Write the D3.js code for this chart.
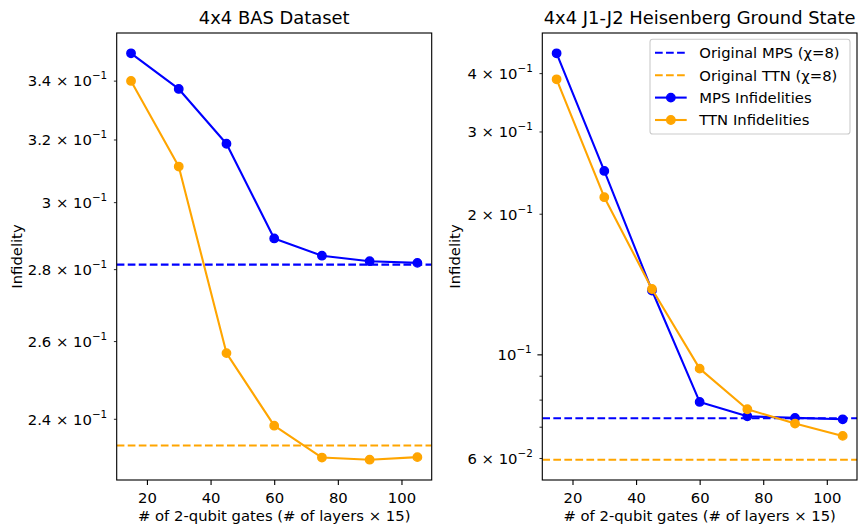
<!DOCTYPE html>
<html>
<head>
<meta charset="utf-8">
<script src="https://cdn.jsdelivr.net/npm/d3@7"></script>
<style>
  body { margin: 0; background: #fff; }
  svg { display: block; font-family: "DejaVu Sans", sans-serif; }
</style>
</head>
<body>
<div id="chart-area"></div>
<script>
// data
var gates = [15, 30, 45, 60, 75, 90, 105];

var basMps = [0.3497, 0.3371, 0.3186, 0.2890, 0.2839, 0.2823, 0.2818];
var basTtn = [0.3399, 0.3112, 0.2568, 0.2383, 0.2306, 0.2301, 0.2307];
var basOrig = [0.2813, 0.2335]; // MPS, TTN (chi=8)

var heisMps = [0.441, 0.247, 0.137, 0.0791, 0.0737, 0.0731, 0.0726];
var heisTtn = [0.388, 0.217, 0.138, 0.0932, 0.0763, 0.0711, 0.0669];
var heisOrig = [0.0730, 0.0595];

var xTicks = [20, 40, 60, 80, 100];
var basTicks = [0.24, 0.26, 0.28, 0.30, 0.32, 0.34];
var heisMajor = [0.1];
var heisMinor = [0.06, 0.07, 0.08, 0.09, 0.2, 0.3, 0.4];
var heisLabeled = [0.06, 0.2, 0.3, 0.4];

var legendNames = ["Original MPS (\u03c7=8)", "Original TTN (\u03c7=8)", "MPS Infidelities", "TTN Infidelities"];

var W = 861, H = 532;
var FS = 14.8;
var TFS = 17.9;
var PT = 1.4;
var colors = {mps: "blue", ttn: "orange"};

var svg = d3.select("#chart-area").append("svg")
	.attr("width", W)
	.attr("height", H);

svg.append("rect").attr("width", W).attr("height", H).attr("fill", "#fff");

// matplotlib-ish log padding (5% in log space)
function logPad(vals) {
	var lo = Math.log(d3.min(vals)), hi = Math.log(d3.max(vals));
	var m = (hi - lo) * 0.05;
	return [Math.exp(lo - m), Math.exp(hi + m)];
}

// write "m × 10^e" as tspans
function mathText(text, v) {
	var e = Math.floor(Math.log10(v) + 1e-9);
	var m = Math.round(v / Math.pow(10, e) * 10) / 10;
	text.text("");
	var base = (m === 1) ? "10" : (m + " \u00d7 10");
	text.append("tspan").text(base);
	text.append("tspan")
		.attr("font-size", FS * 0.7)
		.attr("dy", -7)
		.text("\u2212" + Math.abs(e));
}

function drawPanel(cfg) {
	var g = svg.append("g");

	var x = d3.scaleLinear().domain([10.5, 109.5]).range([cfg.x0, cfg.x1]);
	var y = d3.scaleLog()
		.domain(logPad(cfg.mps.concat(cfg.ttn, cfg.orig)))
		.range([cfg.y1, cfg.y0]);

	// x axis
	var xa = g.append("g")
		.attr("transform", "translate(0," + cfg.y1 + ")")
		.call(d3.axisBottom(x).tickValues(xTicks).tickSize(4.9).tickPadding(7.6));
	xa.select(".domain").remove();
	xa.selectAll("text").attr("font-size", FS).attr("font-family", "DejaVu Sans").attr("fill", "#000");
	xa.selectAll("line").attr("stroke", "#000").attr("stroke-width", 0.8 * PT);

	// y axis: minor ticks (some labelled) and majors
	var ymin = g.append("g")
		.attr("transform", "translate(" + cfg.x0 + ",0)")
		.call(d3.axisLeft(y).tickValues(cfg.minor).tickSize(2.8).tickPadding(6.7));
	ymin.select(".domain").remove();
	ymin.selectAll("line").attr("stroke", "#000").attr("stroke-width", 0.6 * PT);
	ymin.selectAll("text")
		.attr("font-size", FS).attr("font-family", "DejaVu Sans").attr("fill", "#000")
		.attr("dy", "0.36em")
		.each(function(d) {
			var t = d3.select(this);
			if (cfg.labeled.indexOf(d) < 0) { t.remove(); return; }
			mathText(t, d);
		});

	if (cfg.major.length) {
		var ymaj = g.append("g")
			.attr("transform", "translate(" + cfg.x0 + ",0)")
			.call(d3.axisLeft(y).tickValues(cfg.major).tickSize(4.9).tickPadding(5.7));
		ymaj.select(".domain").remove();
		ymaj.selectAll("line").attr("stroke", "#000").attr("stroke-width", 0.8 * PT);
		ymaj.selectAll("text")
			.attr("font-size", FS).attr("font-family", "DejaVu Sans").attr("fill", "#000")
			.attr("dy", "0.36em")
			.each(function(d) { mathText(d3.select(this), d); });
	}

	var plot = g.append("g");
	plot.append("clipPath").attr("id", "clip" + cfg.id)
		.append("rect").attr("x", cfg.x0).attr("y", cfg.y0)
		.attr("width", cfg.x1 - cfg.x0).attr("height", cfg.y1 - cfg.y0);
	var inner = plot.append("g").attr("clip-path", "url(#clip" + cfg.id + ")");

	// reference lines
	[["mps", cfg.orig[0]], ["ttn", cfg.orig[1]]].forEach(function(r) {
		inner.append("line")
			.attr("x1", cfg.x0).attr("x2", cfg.x1)
			.attr("y1", y(r[1])).attr("y2", y(r[1]))
			.attr("stroke", colors[r[0]])
			.attr("stroke-width", 1.5 * PT)
			.attr("stroke-dasharray", "7.7,3.33");
	});

	var line = d3.line()
		.x(function(d, i) { return x(gates[i]); })
		.y(function(d) { return y(d); });

	[["mps", cfg.mps], ["ttn", cfg.ttn]].forEach(function(s) {
		inner.append("path")
			.datum(s[1])
			.attr("d", line)
			.attr("fill", "none")
			.attr("stroke", colors[s[0]])
			.attr("stroke-width", 1.5 * PT)
			.attr("stroke-linejoin", "round");
		inner.selectAll(".dot-" + s[0])
			.data(s[1])
			.enter().append("circle")
			.attr("class", "dot-" + s[0])
			.attr("cx", function(d, i) { return x(gates[i]); })
			.attr("cy", function(d) { return y(d); })
			.attr("r", 4.2)
			.attr("fill", colors[s[0]])
			.attr("stroke", colors[s[0]])
			.attr("stroke-width", PT);
	});

	// frame
	g.append("rect")
		.attr("x", cfg.x0).attr("y", cfg.y0)
		.attr("width", cfg.x1 - cfg.x0).attr("height", cfg.y1 - cfg.y0)
		.attr("fill", "none").attr("stroke", "#000").attr("stroke-width", 0.8 * PT);

	// labels
	var cx = (cfg.x0 + cfg.x1) / 2;
	g.append("text")
		.attr("x", cx).attr("y", 24)
		.attr("text-anchor", "middle").attr("font-size", TFS)
		.text(cfg.title);
	g.append("text")
		.attr("x", cx).attr("y", 521)
		.attr("text-anchor", "middle").attr("font-size", FS)
		.text("# of 2-qubit gates (# of layers \u00d7 15)");
	g.append("text")
		.attr("transform", "translate(" + cfg.ylabX + "," + ((cfg.y0 + cfg.y1) / 2) + ") rotate(-90)")
		.attr("text-anchor", "middle").attr("font-size", FS)
		.text("Infidelity");

	if (cfg.legend) {
		var lg = g.append("g");
		lg.append("rect")
			.attr("x", 650).attr("y", 39.3).attr("width", 200).attr("height", 94.7)
			.attr("rx", 2.8).attr("ry", 2.8)
			.attr("fill", "#fff").attr("fill-opacity", 0.8)
			.attr("stroke", "#cccccc").attr("stroke-width", 0.8 * PT);
		var keys = ["mps", "ttn", "mps", "ttn"];
		legendNames.forEach(function(name, i) {
			var yy = 52.8 + i * 22.4;
			lg.append("line")
				.attr("x1", 655).attr("x2", 686.7).attr("y1", yy).attr("y2", yy)
				.attr("stroke", colors[keys[i]]).attr("stroke-width", 1.5 * PT)
				.attr("stroke-dasharray", i < 2 ? "7.7,3.33" : null);
			if (i >= 2) {
				lg.append("circle").attr("cx", 670.85).attr("cy", yy).attr("r", 4.2)
					.attr("fill", colors[keys[i]]).attr("stroke", colors[keys[i]]).attr("stroke-width", PT);
			}
			lg.append("text")
				.attr("x", 699.3).attr("y", yy + 5.3)
				.attr("font-size", FS)
				.text(name);
		});
	}
}

drawPanel({
	id: "a", x0: 116.7, x1: 431.7, y0: 33, y1: 480,
	title: "4x4 BAS Dataset",
	mps: basMps, ttn: basTtn, orig: basOrig,
	major: [], minor: basTicks, labeled: basTicks,
	ylabX: 21.5, legend: false
});

drawPanel({
	id: "b", x0: 542.3, x1: 857, y0: 33, y1: 480,
	title: "4x4 J1-J2 Heisenberg Ground State",
	mps: heisMps, ttn: heisTtn, orig: heisOrig,
	major: heisMajor, minor: heisMinor, labeled: heisLabeled,
	ylabX: 460, legend: true
});
</script>
</body>
</html>
